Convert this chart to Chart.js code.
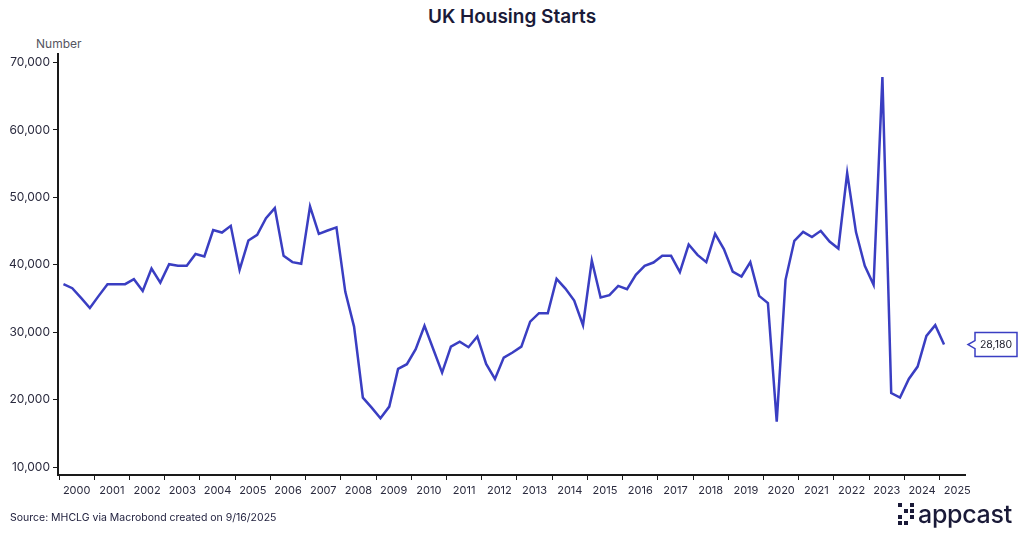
<!DOCTYPE html>
<html lang="en">
<head>
  <meta charset="UTF-8" />
  <title>UK Housing Starts</title>
  <style>
    body {
      margin: 0;
      width: 1024px;
      height: 535px;
      background: #ffffff;
      font-family: "Inter", "Lato", sans-serif;
      color: #1c1c3a;
      position: relative;
      overflow: hidden;
    }
    #titulo {
      position: absolute;
      left: 0; top: 5px; width: 1024px;
      text-align: center;
      font-size: 19px;
      font-weight: 600;
      color: #1a1a38;
    }
    #unidade {
      position: absolute;
      left: 36px; top: 36px;
      font-size: 12px;
      color: #55555f;
    }
    #fonte {
      position: absolute;
      left: 10px; top: 511px;
      font-size: 10.5px;
      color: #1c1c3a;
    }
    #logo {
      position: absolute;
      left: 898px; top: 500px;
      display: flex;
      align-items: center;
    }
    #logo .icone {
      display: grid;
      grid-template-columns: repeat(3, 4px);
      grid-auto-rows: 4px;
      gap: 2px;
      margin-right: 4px;
    }
    #logo .icone span { background: #1a1a38; }
    #logo .icone span.v { background: transparent; }
    #logo .txt {
      font-size: 25px;
      font-weight: 500;
      color: #1a1a38;
      letter-spacing: -0.3px;
      line-height: 28px;
    }
    canvas { position: absolute; left: 0; top: 0; }
  </style>
</head>
<body>
  <div id="titulo">UK Housing Starts</div>
  <div id="unidade">Number</div>
  <canvas id="grafico" width="1024" height="535"></canvas>
  <div id="fonte">Source: MHCLG via Macrobond created on 9/16/2025</div>
  <div id="logo">
    <div class="icone">
      <span></span><span class="v"></span><span></span>
      <span class="v"></span><span></span><span></span>
      <span></span><span class="v"></span><span></span>
      <span></span><span></span><span class="v"></span>
    </div>
    <div class="txt">appcast</div>
  </div>

  <script src="https://cdn.jsdelivr.net/npm/chart.js"></script>
  <script>
    // quarterly series, first point = 2000 Q1
    const primeiroAno = 2000;
    const inicios = [
      37140, 36540, 35100, 33600, 35400, 37140, 37140, 37140, 37880, 36140,
      39450, 37370, 40100, 39850, 39850, 41600, 41250, 45150, 44790, 45780,
      39260, 43600, 44450, 46920, 48410, 41330, 40400, 40150, 48650, 44600,
      45090, 45560, 36040, 30850, 20320, 18840, 17270, 18990, 24580, 25270,
      27490, 30950, 27490, 24030, 27880, 28620, 27790, 29370, 25320, 23090,
      26250, 27000, 27880, 31590, 32830, 32830, 37920, 36480, 34700, 31060,
      40640, 35150, 35500, 36880, 36400, 38520, 39850, 40340, 41330, 41330,
      38920, 43010, 41480, 40400, 44600, 42330, 39010, 38270, 40400, 35400,
      34320, 16760, 37780, 43560, 44890, 44110, 45040, 43460, 42420, 53600,
      44850, 39850, 37030, 67830, 21000, 20320, 23090, 24920, 29470, 31060,
      28180
    ];
    const anos = [2000, 2001, 2002, 2003, 2004, 2005, 2006, 2007, 2008, 2009,
      2010, 2011, 2012, 2013, 2014, 2015, 2016, 2017, 2018, 2019,
      2020, 2021, 2022, 2023, 2024, 2025];
    const ticksY = [10000, 20000, 30000, 40000, 50000, 60000, 70000];

    const pontos = inicios.map((v, i) => ({ x: primeiroAno + (i + 0.5) / 4, y: v }));

    const corLinha = '#3a3ec2';
    const corTexto = '#2a2a3e';

    // boxed label for the latest value, right of the plot
    const rotuloFinal = {
      id: 'rotuloFinal',
      afterDatasetsDraw(chart) {
        const ctx = chart.ctx;
        const ultimo = inicios[inicios.length - 1];
        const y = chart.scales.y.getPixelForValue(ultimo);
        const x0 = chart.chartArea.right + 10;
        const w = 42, h = 24, bico = 7;
        ctx.save();
        ctx.beginPath();
        ctx.moveTo(x0, y - h / 2);
        ctx.lineTo(x0 + w, y - h / 2);
        ctx.lineTo(x0 + w, y + h / 2);
        ctx.lineTo(x0, y + h / 2);
        ctx.lineTo(x0, y + 4);
        ctx.lineTo(x0 - bico, y);
        ctx.lineTo(x0, y - 4);
        ctx.closePath();
        ctx.fillStyle = '#ffffff';
        ctx.fill();
        ctx.strokeStyle = corLinha;
        ctx.lineWidth = 1.5;
        ctx.stroke();
        ctx.fillStyle = '#1c1c2a';
        ctx.font = '10.5px Inter, sans-serif';
        ctx.textAlign = 'center';
        ctx.textBaseline = 'middle';
        ctx.fillText(ultimo.toLocaleString('en-US'), x0 + w / 2, y + 0.5);
        ctx.restore();
      }
    };

    new Chart(document.getElementById('grafico'), {
      type: 'line',
      data: {
        datasets: [{
          data: pontos,
          borderColor: corLinha,
          borderWidth: 2.5,
          pointRadius: 0,
          tension: 0,
          fill: false
        }]
      },
      options: {
        responsive: false,
        animation: false,
        layout: { padding: { top: 54, right: 59, bottom: 38, left: 0 } },
        plugins: { legend: { display: false }, tooltip: { enabled: false } },
        scales: {
          x: {
            type: 'linear',
            min: 1999.97,
            max: 2025.72,
            afterBuildTicks(s) {
              const t = [];
              anos.forEach(a => { t.push({ value: a }); t.push({ value: a + 0.5 }); });
              s.ticks = t;
            },
            afterFit(s) { s.height = 22; },
            ticks: {
              autoSkip: false,
              maxRotation: 0,
              padding: 4,
              color: corTexto,
              font: { family: 'Inter', size: 11 },
              callback: v => (v % 1 === 0.5 ? String(Math.floor(v)) : '')
            },
            grid: {
              drawOnChartArea: false,
              tickLength: 5,
              tickWidth: 1,
              tickColor: c => (c.tick && c.tick.value % 1 === 0 ? '#1a1a1a' : 'rgba(0,0,0,0)')
            },
            border: { display: true, color: '#1a1a1a', width: 2 }
          },
          y: {
            min: 8850,
            max: 71250,
            afterBuildTicks(s) { s.ticks = ticksY.map(v => ({ value: v })); },
            afterFit(s) { s.width = 58; },
            ticks: {
              padding: 3,
              color: corTexto,
              font: { family: 'Inter', size: 12 },
              callback: v => v.toLocaleString('en-US')
            },
            grid: {
              drawOnChartArea: false,
              tickLength: 5,
              tickColor: '#1a1a1a'
            },
            border: { display: true, color: '#1a1a1a', width: 2 }
          }
        }
      },
      plugins: [rotuloFinal]
    });
  </script>
</body>
</html>
